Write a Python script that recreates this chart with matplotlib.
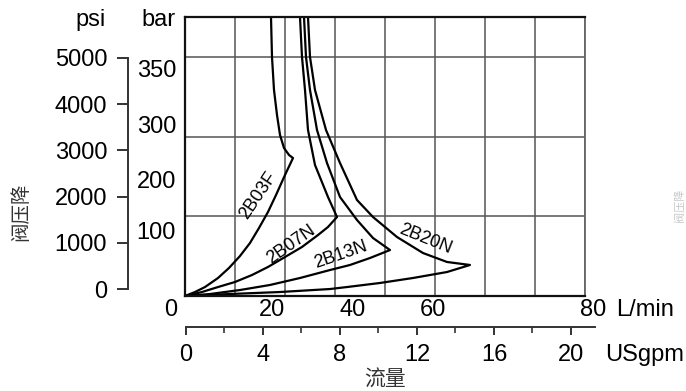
import numpy as np
import matplotlib
matplotlib.use("Agg")
import matplotlib.pyplot as plt

plt.rcParams['font.family'] = ['Liberation Sans', 'Noto Sans CJK SC', 'DejaVu Sans']

# ---------------- data (L/min, bar on the grid scale) ----------------
c03_x = [17.2, 17.4, 17.8, 18.4, 19.0, 19.8, 20.8, 21.6, 20.0, 18.2, 16.6, 14.8, 13.0, 11.0, 8.8, 6.6, 4.0, 2.0, 0.0]
c03_y = [420, 359.8, 310.1, 272.5, 242.4, 222.8, 212.3, 207.7, 182.2, 152.0, 126.5, 102.4, 79.8, 60.2, 42.2, 27.1, 13.5, 6.0, 0.0]

c07_x = [23.0, 23.4, 24.0, 24.6, 26.0, 28.6, 30.4, 28.6, 26.6, 23.4, 20.0, 16.6, 13.4, 10.0, 6.6, 3.4, 0.0]
c07_y = [420, 359.8, 310.1, 249.9, 197.2, 149.0, 118.9, 103.9, 91.8, 73.8, 58.7, 43.7, 31.6, 21.1, 13.5, 6.0, 0.0]

c13_x = [23.8, 24.2, 25.0, 26.4, 28.4, 31.0, 34.4, 37.6, 41.0, 37.0, 33.0, 29.0, 23.0, 17.0, 11.0, 5.0, 0.0]
c13_y = [420, 359.8, 310.1, 249.9, 200.2, 149.0, 114.4, 87.3, 69.2, 57.2, 46.7, 39.1, 27.1, 16.6, 9.0, 3.0, 0.0]

c20_x = [24.6, 25.0, 26.0, 28.2, 31.0, 34.4, 37.6, 42.4, 47.6, 52.4, 57.0, 52.4, 45.6, 39.0, 32.4, 29.0, 19.0, 9.0, 0.0]
c20_y = [420, 359.8, 310.1, 249.9, 200.2, 144.5, 118.9, 88.8, 64.7, 51.2, 46.7, 36.1, 27.1, 19.6, 13.5, 10.5, 6.0, 3.0, 0.0]

series_names = ['2B03F', '2B07N', '2B13N', '2B20N']

psi_ticks = [0, 1000, 2000, 3000, 4000, 5000]
bar_labels = ['350', '300', '200', '100']
lpm_labels = ['20', '40', '60', '80']
gpm_major = [0, 4, 8, 12, 16, 20]
gpm_minor = [2, 6, 10, 14, 18]

# ---------------- layout ----------------
W, H = 686, 391
fig = plt.figure(figsize=(W / 100, H / 100), dpi=100)

def fx(px):
    return px / W

def fy(py):
    return 1 - py / H

# main grid axes
ax = fig.add_axes([fx(185), fy(296), fx(585) - fx(185), fy(17) - fy(296)])
ax.set_xlim(0, 80)
ax.set_ylim(0, 420)
ax.set_xticks(np.arange(0, 81, 10))
ax.set_yticks([120, 240, 360])
ax.grid(True, color='#555555', linewidth=1.1)
ax.tick_params(length=0, labelbottom=False, labelleft=False)
for s in ['left', 'bottom', 'top']:
    ax.spines[s].set_color('#111111')
    ax.spines[s].set_linewidth(1.6)
ax.spines['right'].set_color('#666666')
ax.spines['right'].set_linewidth(1.3)

for xs, ys in [(c03_x, c03_y), (c07_x, c07_y), (c13_x, c13_y), (c20_x, c20_y)]:
    ax.plot(xs, ys, color='black', linewidth=1.6, solid_joinstyle='round', clip_on=True)

# curve labels
lab_pos = [(258, 195, 56), (291, 245, 35), (341, 255, 19), (425, 239, -22)]
for name, (px, py, rot) in zip(series_names, lab_pos):
    fig.text(fx(px), fy(py), name, fontsize=13, rotation=rot, ha='center', va='center',
             rotation_mode='anchor')

# psi axis
axp = fig.add_axes([fx(128), fy(289), 0.0005, fy(58) - fy(289)])
axp.set_ylim(0, 5000)
axp.set_yticks(psi_ticks)
axp.set_yticklabels([str(v) for v in psi_ticks])
axp.set_xticks([])
for s in ['right', 'top', 'bottom']:
    axp.spines[s].set_visible(False)
axp.spines['left'].set_color('#333333')
axp.spines['left'].set_linewidth(1.4)
axp.tick_params(axis='y', direction='out', length=8, width=1.4, color='#333333',
                labelsize=17, pad=7)
axp.patch.set_visible(False)

# USgpm axis
axg = fig.add_axes([fx(186), fy(327), fx(595) - fx(186), 0.0005])
axg.set_xlim(0, 21.25)
axg.set_xticks(gpm_major)
axg.set_xticklabels([str(v) for v in gpm_major])
axg.set_xticks(gpm_minor, minor=True)
axg.set_yticks([])
for s in ['left', 'right', 'top']:
    axg.spines[s].set_visible(False)
axg.spines['bottom'].set_color('#333333')
axg.spines['bottom'].set_linewidth(1.4)
axg.tick_params(axis='x', which='major', direction='out', length=6, width=1.4,
                color='#333333', labelsize=17, pad=6)
axg.tick_params(axis='x', which='minor', direction='out', length=4, width=1.2,
                color='#333333')
axg.patch.set_visible(False)

# header / axis text
fs = 17
fig.text(fx(106), fy(20), 'psi', fontsize=fs, ha='right', va='center')
fig.text(fx(176), fy(20), 'bar', fontsize=fs, ha='right', va='center')
for lab, py in zip(bar_labels, [71, 127, 182, 233]):
    fig.text(fx(176), fy(py), lab, fontsize=fs, ha='right', va='center')
fig.text(fx(177), fy(310), '0', fontsize=fs, ha='right', va='center')
for lab, px in zip(lpm_labels, [272, 353, 433, 593]):
    fig.text(fx(px), fy(310), lab, fontsize=fs, ha='center', va='center')
fig.text(fx(616), fy(310), 'L/min', fontsize=fs, ha='left', va='center')
fig.text(fx(605), fy(355), 'USgpm', fontsize=fs, ha='left', va='center')

fig.text(fx(21), fy(212), '阀压降', fontsize=14, rotation=90, ha='center', va='center',
         color='#333333', family=['Noto Sans CJK SC', 'DejaVu Sans'], fontweight='light')
fig.text(fx(385), fy(380), '流量', fontsize=15, ha='center', va='center',
         color='#333333', family=['Noto Sans CJK SC', 'DejaVu Sans'], fontweight='light')
fig.text(fx(685), fy(205), '阀压降', fontsize=8, rotation=90, ha='right', va='center',
         color='#c8c8c8', family=['Noto Sans CJK SC', 'DejaVu Sans'])

fig.savefig('out.png', dpi=100)
